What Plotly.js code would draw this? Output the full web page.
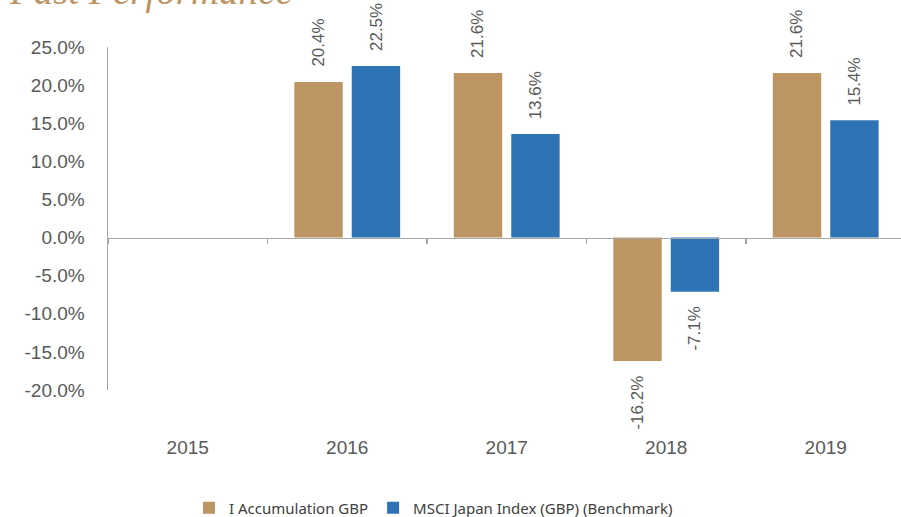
<!DOCTYPE html>
<html>
<head>
<meta charset="utf-8">
<script src="https://cdn.plot.ly/plotly-3.0.1.min.js"></script>
<style>html,body{margin:0;padding:0;background:#fff;}#chart{width:901px;height:517px;}</style>
</head>
<body>
<div id="chart"></div>
<script>
const years = ['2015', '2016', '2017', '2018', '2019'];
const seriesNames = ['I Accumulation GBP', 'MSCI Japan Index (GBP) (Benchmark)'];
const fundValues = [null, 20.4, 21.6, -16.2, 21.6];
const benchValues = [null, 22.5, 13.6, -7.1, 15.4];
const yTicks = [-20, -15, -10, -5, 0, 5, 10, 15, 20, 25];

const gold = '#BC9562';
const blue = '#2E74B5';
const gray = '#595959';
const axisGray = '#A6A6A6';

const traces = [
  {type: 'bar', name: seriesNames[0], x: years, y: fundValues, marker: {color: gold}, hoverinfo: 'none'},
  {type: 'bar', name: seriesNames[1], x: years, y: benchValues, marker: {color: blue}, hoverinfo: 'none'}
];

const offsets = [-0.18, 0.18];
const annotations = [];
[fundValues, benchValues].forEach((vals, s) => {
  vals.forEach((v, j) => {
    if (v === null) return;
    annotations.push({
      x: j + offsets[s], y: v, xref: 'x', yref: 'y',
      text: v.toFixed(1) + '%', showarrow: false, textangle: -90,
      yanchor: v >= 0 ? 'bottom' : 'top', xanchor: 'center',
      yshift: v >= 0 ? 13 : -13,
      font: {family: 'Liberation Sans, Arial, sans-serif', size: 17, color: gray}
    });
  });
});

const layout = {
  width: 901, height: 517, autosize: false,
  margin: {l: 108, r: 0, t: 47, b: 127},
  paper_bgcolor: '#fff', plot_bgcolor: '#fff',
  barmode: 'group', bargap: 0.28, bargroupgap: 0.157,
  showlegend: true,
  title: {
    text: 'Past Performance', xref: 'container', yref: 'container',
    x: 10 / 901, xanchor: 'left', y: 1 - 4 / 517, yanchor: 'bottom',
    font: {family: 'Liberation Serif, Times New Roman, serif', size: 39, color: '#BC9562', style: 'italic'}
  },
  xaxis: {
    type: 'category', range: [-0.5, 4.472], anchor: 'free', position: 20 / 45,
    showline: true, linecolor: axisGray, linewidth: 1.5,
    ticks: 'outside', tickson: 'boundaries', ticklen: 5, tickcolor: axisGray, tickwidth: 1.5,
    showgrid: false, zeroline: false, ticklabelstandoff: 192,
    tickfont: {family: 'Liberation Sans, Arial, sans-serif', size: 19, color: gray}
  },
  yaxis: {
    range: [-20, 25], tickvals: yTicks, ticktext: yTicks.map(v => v.toFixed(1) + '%'),
    showline: true, linecolor: axisGray, linewidth: 1.5, ticks: '', showgrid: false, zeroline: false,
    ticklabelstandoff: 18,
    tickfont: {family: 'Liberation Sans, Arial, sans-serif', size: 19, color: gray}
  },
  legend: {
    orientation: 'h', xref: 'container', yref: 'container',
    x: 433.5 / 901, xanchor: 'center', y: 1 - 508 / 517, yanchor: 'middle',
    font: {family: 'Noto Sans, Open Sans, sans-serif', size: 15, color: '#404040'}
  },
  annotations: annotations
};

Plotly.newPlot('chart', traces, layout, {displayModeBar: false, staticPlot: true});
</script>
</body>
</html>
